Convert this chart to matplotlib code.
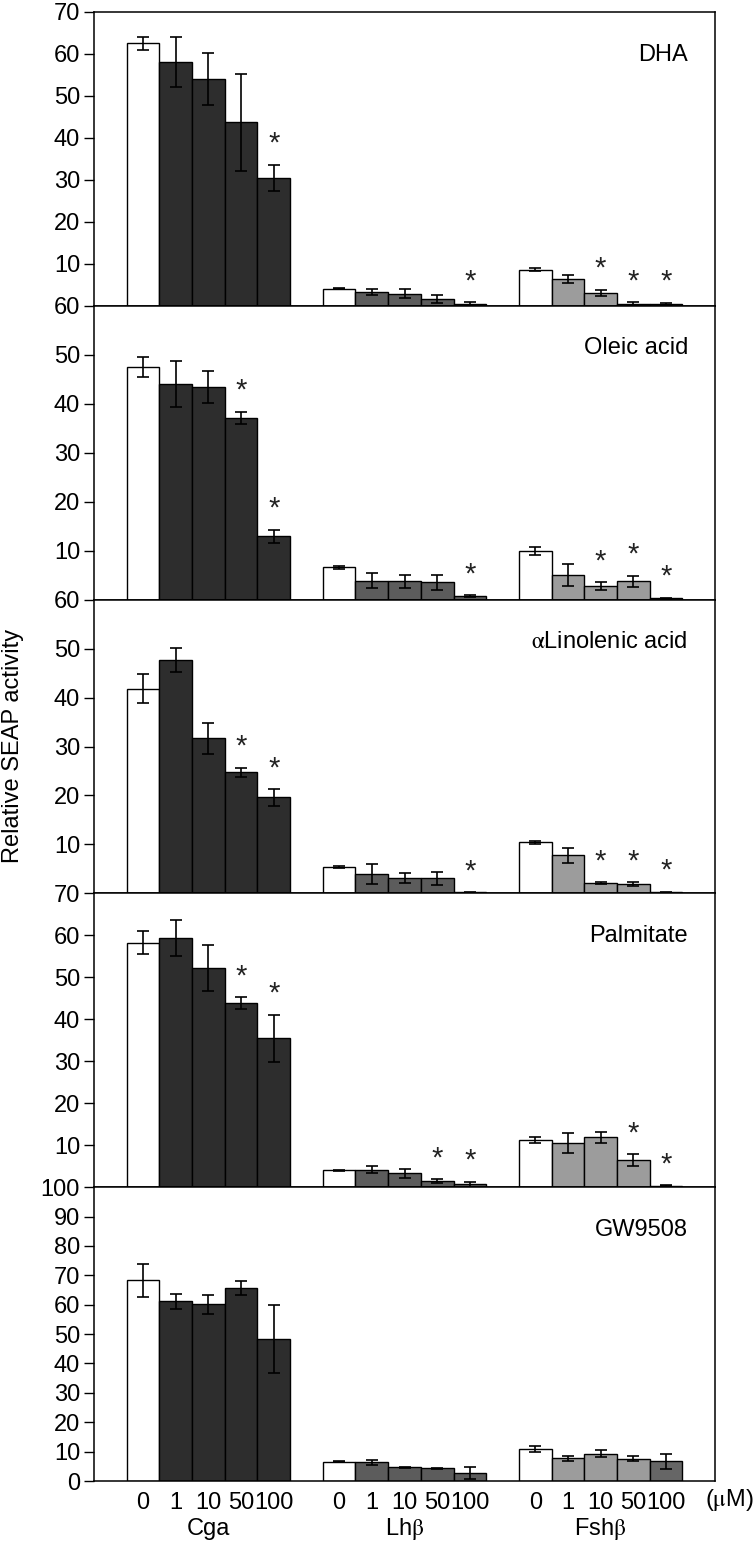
import matplotlib
matplotlib.use('Agg')
import matplotlib.pyplot as plt
import matplotlib.transforms as mtransforms
import numpy as np

plt.rcParams['font.family'] = ['Liberation Sans', 'DejaVu Sans']
plt.rcParams['mathtext.fontset'] = 'stix'

genes = ['Cga', 'Lh$\\mathrm{\\beta}$', 'Fsh$\\mathrm{\\beta}$']
doses = ['0', '1', '10', '50', '100']
treatments = ['DHA', 'Oleic acid', '$\\mathrm{\\alpha}$Linolenic acid', 'Palmitate', 'GW9508']
ymax = [70, 60, 60, 70, 100]

# 15 values per panel: Cga 0..100, Lhb 0..100, Fshb 0..100
dha_mean = [62.5, 58.1, 54.0, 43.7, 30.5, 4.1, 3.3, 2.9, 1.7, 0.5, 8.6, 6.4, 3.1, 0.5, 0.4]
dha_err = [1.6, 6.0, 6.2, 11.6, 3.1, 0.2, 0.7, 1.1, 0.95, 0.4, 0.3, 0.85, 0.7, 0.4, 0.3]
dha_sig = [4, 9, 12, 13, 14]

oleic_mean = [47.5, 44.1, 43.4, 37.1, 12.9, 6.6, 3.9, 3.7, 3.5, 0.7, 9.9, 5.0, 2.7, 3.7, 0.27]
oleic_err = [2.0, 4.7, 3.2, 1.3, 1.35, 0.3, 1.6, 1.3, 1.6, 0.25, 0.75, 2.2, 0.8, 1.15, 0.1]
oleic_sig = [3, 4, 9, 12, 13, 14]

lino_mean = [41.8, 47.7, 31.7, 24.7, 19.6, 5.3, 3.95, 3.07, 3.07, 0.2, 10.4, 7.8, 2.1, 1.9, 0.27]
lino_err = [2.95, 2.5, 3.2, 1.0, 1.7, 0.2, 2.1, 1.0, 1.3, 0.1, 0.3, 1.55, 0.2, 0.4, 0.1]
lino_sig = [3, 4, 9, 12, 13, 14]

palm_mean = [58.3, 59.3, 52.2, 43.9, 35.5, 4.06, 4.2, 3.3, 1.4, 0.7, 11.3, 10.6, 11.9, 6.5, 0.4]
palm_err = [2.85, 4.3, 5.5, 1.4, 5.6, 0.15, 0.8, 1.0, 0.5, 0.6, 0.7, 2.35, 1.3, 1.4, 0.1]
palm_sig = [3, 4, 8, 9, 13, 14]

gw_mean = [68.3, 61.2, 60.1, 65.8, 48.2, 6.6, 6.3, 4.6, 4.3, 2.8, 10.9, 7.7, 9.3, 7.6, 6.8]
gw_err = [5.65, 2.6, 3.15, 2.4, 11.55, 0.15, 0.8, 0.3, 0.2, 2.0, 1.0, 0.9, 1.1, 0.8, 2.55]
gw_sig = []

means = [dha_mean, oleic_mean, lino_mean, palm_mean, gw_mean]
errs = [dha_err, oleic_err, lino_err, palm_err, gw_err]
sigs = [dha_sig, oleic_sig, lino_sig, palm_sig, gw_sig]

gene_colors = ['#2d2d2d', '#5c5c5c', '#9c9c9c']

# bar centres: each group of 5 starts 1 bar after the previous
x = np.array([1 + g * 6 + i + 0.5 for g in range(3) for i in range(5)])

fig = plt.figure(figsize=(7.56, 15.47), dpi=100)
W, H = 756.0, 1547.0
left, right = 94 / W, 715 / W
top_px, bot_px = 12.0, 1481.0
ph = (bot_px - top_px) / 5

FS = 17
for k in range(5):
    y0 = 1 - (top_px + (k + 1) * ph) / H
    ax = fig.add_axes([left, y0, right - left, ph / H])
    cols = []
    for g in range(3):
        for i in range(5):
            cols.append('white' if i == 0 else gene_colors[g])
    if k == 4:
        cols[14] = '#666666'
    ax.bar(x, means[k], width=1.0, color=cols, edgecolor='black', linewidth=1.0, zorder=2)
    ax.errorbar(x, means[k], yerr=errs[k], fmt='none', ecolor='black',
                elinewidth=1.2, capsize=4.5, capthick=1.2, zorder=3)
    for j in sigs[k]:
        ax.annotate('*', (x[j], means[k][j] + errs[k][j]), xytext=(0, 15),
                    textcoords='offset points', ha='center', va='center',
                    fontsize=21, color='#222222')
    ax.set_xlim(0, 19)
    ax.set_ylim(0, ymax[k])
    if k < 4:
        ax.set_yticks(np.arange(10, ymax[k] + 1, 10))
    else:
        ax.set_yticks(np.arange(0, ymax[k] + 1, 10))
    ax.tick_params(axis='y', direction='out', length=7, width=1.0, labelsize=FS, pad=3)
    ax.set_xticks(x)
    if k == 4:
        ax.set_xticklabels(doses * 3, fontsize=FS)
        ax.tick_params(axis='x', length=0, pad=8)
        trans = mtransforms.blended_transform_factory(ax.transData, ax.transAxes)
        for g in range(3):
            ax.text(1 + g * 6 + 2.5, -0.165, genes[g], transform=trans,
                    ha='center', va='center', fontsize=FS)
        ax.text(19.45, -0.065, '($\\mathrm{\\mu}$M)', transform=trans,
                ha='center', va='center', fontsize=FS)
    else:
        ax.set_xticklabels([])
        ax.tick_params(axis='x', length=0)
    for s in ax.spines.values():
        s.set_linewidth(1.1)
    ax.text(0.9565, 0.855, treatments[k], transform=ax.transAxes,
            ha='right', va='center', fontsize=FS)

fig.text(13 / W, 1 - 746 / H, 'Relative SEAP activity', rotation=90,
         ha='center', va='center', fontsize=FS)

fig.savefig('out.png', dpi=100)
